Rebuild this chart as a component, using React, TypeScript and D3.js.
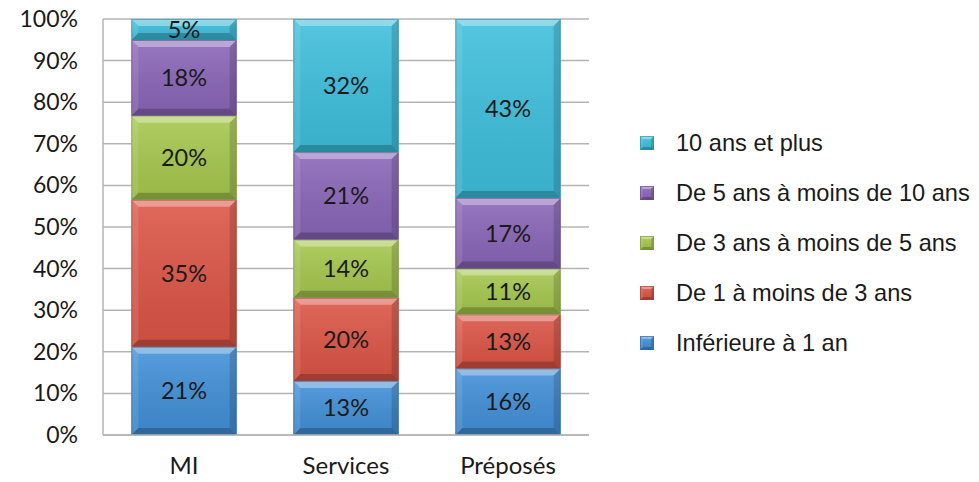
import React from "react";
import * as d3 from "d3";

const categories = ["MI", "Services", "Préposés"];
const seriesNames = [
  "Inférieure à 1 an",
  "De 1 à moins de 3 ans",
  "De 3 ans à moins de 5 ans",
  "De 5 ans à moins de 10 ans",
  "10 ans et plus",
];
const inferieure1 = [21, 13, 16];
const de1a3 = [35, 20, 13];
const de3a5 = [20, 14, 11];
const de5a10 = [18, 21, 17];
const plus10 = [5, 32, 43];
const seriesValues = [inferieure1, de1a3, de3a5, de5a10, plus10];
const colors = ["#4290d8", "#dc5546", "#a6c84e", "#8a66b8", "#3ebfdc"];
const yTicks = [0, 0.1, 0.2, 0.3, 0.4, 0.5, 0.6, 0.7, 0.8, 0.9, 1];

const W = 979;
const H = 482;
const plot = { left: 103, right: 589, top: 19, bottom: 435 };

function Bevel({ x, y, w, h, color, b }: { x: number; y: number; w: number; h: number; color: string; b: number }) {
  const dark = d3.color(color)!.darker(0.9).formatHex();
  const bb = Math.min(b, h / 2, w / 2);
  return (
    <g>
      <rect x={x} y={y} width={w} height={h} fill={color} />
      <rect x={x} y={y} width={w} height={h} fill="url(#shade)" />
      <polygon points={`${x},${y} ${x + w},${y} ${x + w - bb},${y + bb} ${x + bb},${y + bb}`} fill="#fff" opacity={0.35} />
      <polygon points={`${x},${y + h} ${x + w},${y + h} ${x + w - bb},${y + h - bb} ${x + bb},${y + h - bb}`} fill="#000" opacity={0.22} />
      <polygon points={`${x},${y} ${x + bb},${y + bb} ${x + bb},${y + h - bb} ${x},${y + h}`} fill="#fff" opacity={0.1} />
      <polygon points={`${x + w},${y} ${x + w - bb},${y + bb} ${x + w - bb},${y + h - bb} ${x + w},${y + h}`} fill="#000" opacity={0.15} />
      <rect x={x + 0.5} y={y + 0.5} width={w - 1} height={h - 1} fill="none" stroke={dark} strokeOpacity={0.6} strokeWidth={1} />
    </g>
  );
}

export default function App() {
  const rows = categories.map((c, i) => {
    const r: any = { cat: c };
    seriesNames.forEach((s, j) => (r[s] = seriesValues[j][i]));
    return r;
  });
  const stack = d3.stack<any>().keys(seriesNames).offset(d3.stackOffsetExpand);
  const stacked = stack(rows);

  const x = d3.scaleBand().domain(categories).range([plot.left, plot.right]).paddingInner(0.35).paddingOuter(0.175);
  const y = d3.scaleLinear().domain([0, 1]).range([plot.bottom, plot.top]);
  const fmt = d3.format(".0%");

  const legendOrder = [...seriesNames].reverse();
  const legendY = d3.scalePoint().domain(legendOrder).range([143, 343]);

  return (
    <svg width={W} height={H} style={{ position: "absolute", left: 0, top: 0, background: "#fff" }}>
      <defs>
        <linearGradient id="shade" x1="0" y1="0" x2="0" y2="1">
          <stop offset="0" stopColor="#fff" stopOpacity={0.12} />
          <stop offset="1" stopColor="#000" stopOpacity={0.08} />
        </linearGradient>
      </defs>
      {yTicks.map((t) => (
        <line key={t} x1={plot.left} x2={plot.right} y1={y(t)} y2={y(t)} stroke="#b4b4b4" strokeWidth={1.5} />
      ))}
      <line x1={plot.left} x2={plot.left} y1={plot.top} y2={plot.bottom} stroke="#b4b4b4" strokeWidth={1.5} />
      {yTicks.map((t) => (
        <text key={t} x={78} y={y(t)} dy="0.35em" textAnchor="end" fontFamily="Lato, sans-serif" fontSize={23} fill="#1a1a1a">
          {fmt(t)}
        </text>
      ))}
      {stacked.map((layer, j) =>
        layer.map((d, i) => {
          const x0 = x(categories[i])!;
          const y0 = y(d[1]);
          const h = y(d[0]) - y(d[1]);
          return (
            <g key={`${j}-${i}`}>
              <Bevel x={x0} y={y0} w={x.bandwidth()} h={h} color={colors[j]} b={7} />
            </g>
          );
        })
      )}
      {stacked.map((layer, j) =>
        layer.map((d, i) => (
          <text
            key={`t${j}-${i}`}
            x={x(categories[i])! + x.bandwidth() / 2}
            y={(y(d[0]) + y(d[1])) / 2}
            dy="0.36em"
            textAnchor="middle"
            fontFamily="Lato, sans-serif"
            fontSize={23.5}
            fill="#1a1a1a"
          >
            {seriesValues[j][i]}%
          </text>
        ))
      )}
      <line x1={plot.left} x2={plot.right} y1={plot.bottom} y2={plot.bottom} stroke="#b4b4b4" strokeWidth={1.5} />
      {categories.map((c) => (
        <text key={c} x={x(c)! + x.bandwidth() / 2} y={466} dy="0.35em" textAnchor="middle" fontFamily="Lato, sans-serif" fontSize={24} fill="#1a1a1a">
          {c}
        </text>
      ))}
      {legendOrder.map((s) => {
        const j = seriesNames.indexOf(s);
        const cy = legendY(s)!;
        return (
          <g key={s}>
            <Bevel x={640} y={cy - 7} w={14} h={14} color={colors[j]} b={3} />
            <text x={676} y={cy} dy="0.35em" fontFamily="'Liberation Sans', Arial, sans-serif" fontSize={23.6} fill="#1a1a1a">
              {s}
            </text>
          </g>
        );
      })}
    </svg>
  );
}
